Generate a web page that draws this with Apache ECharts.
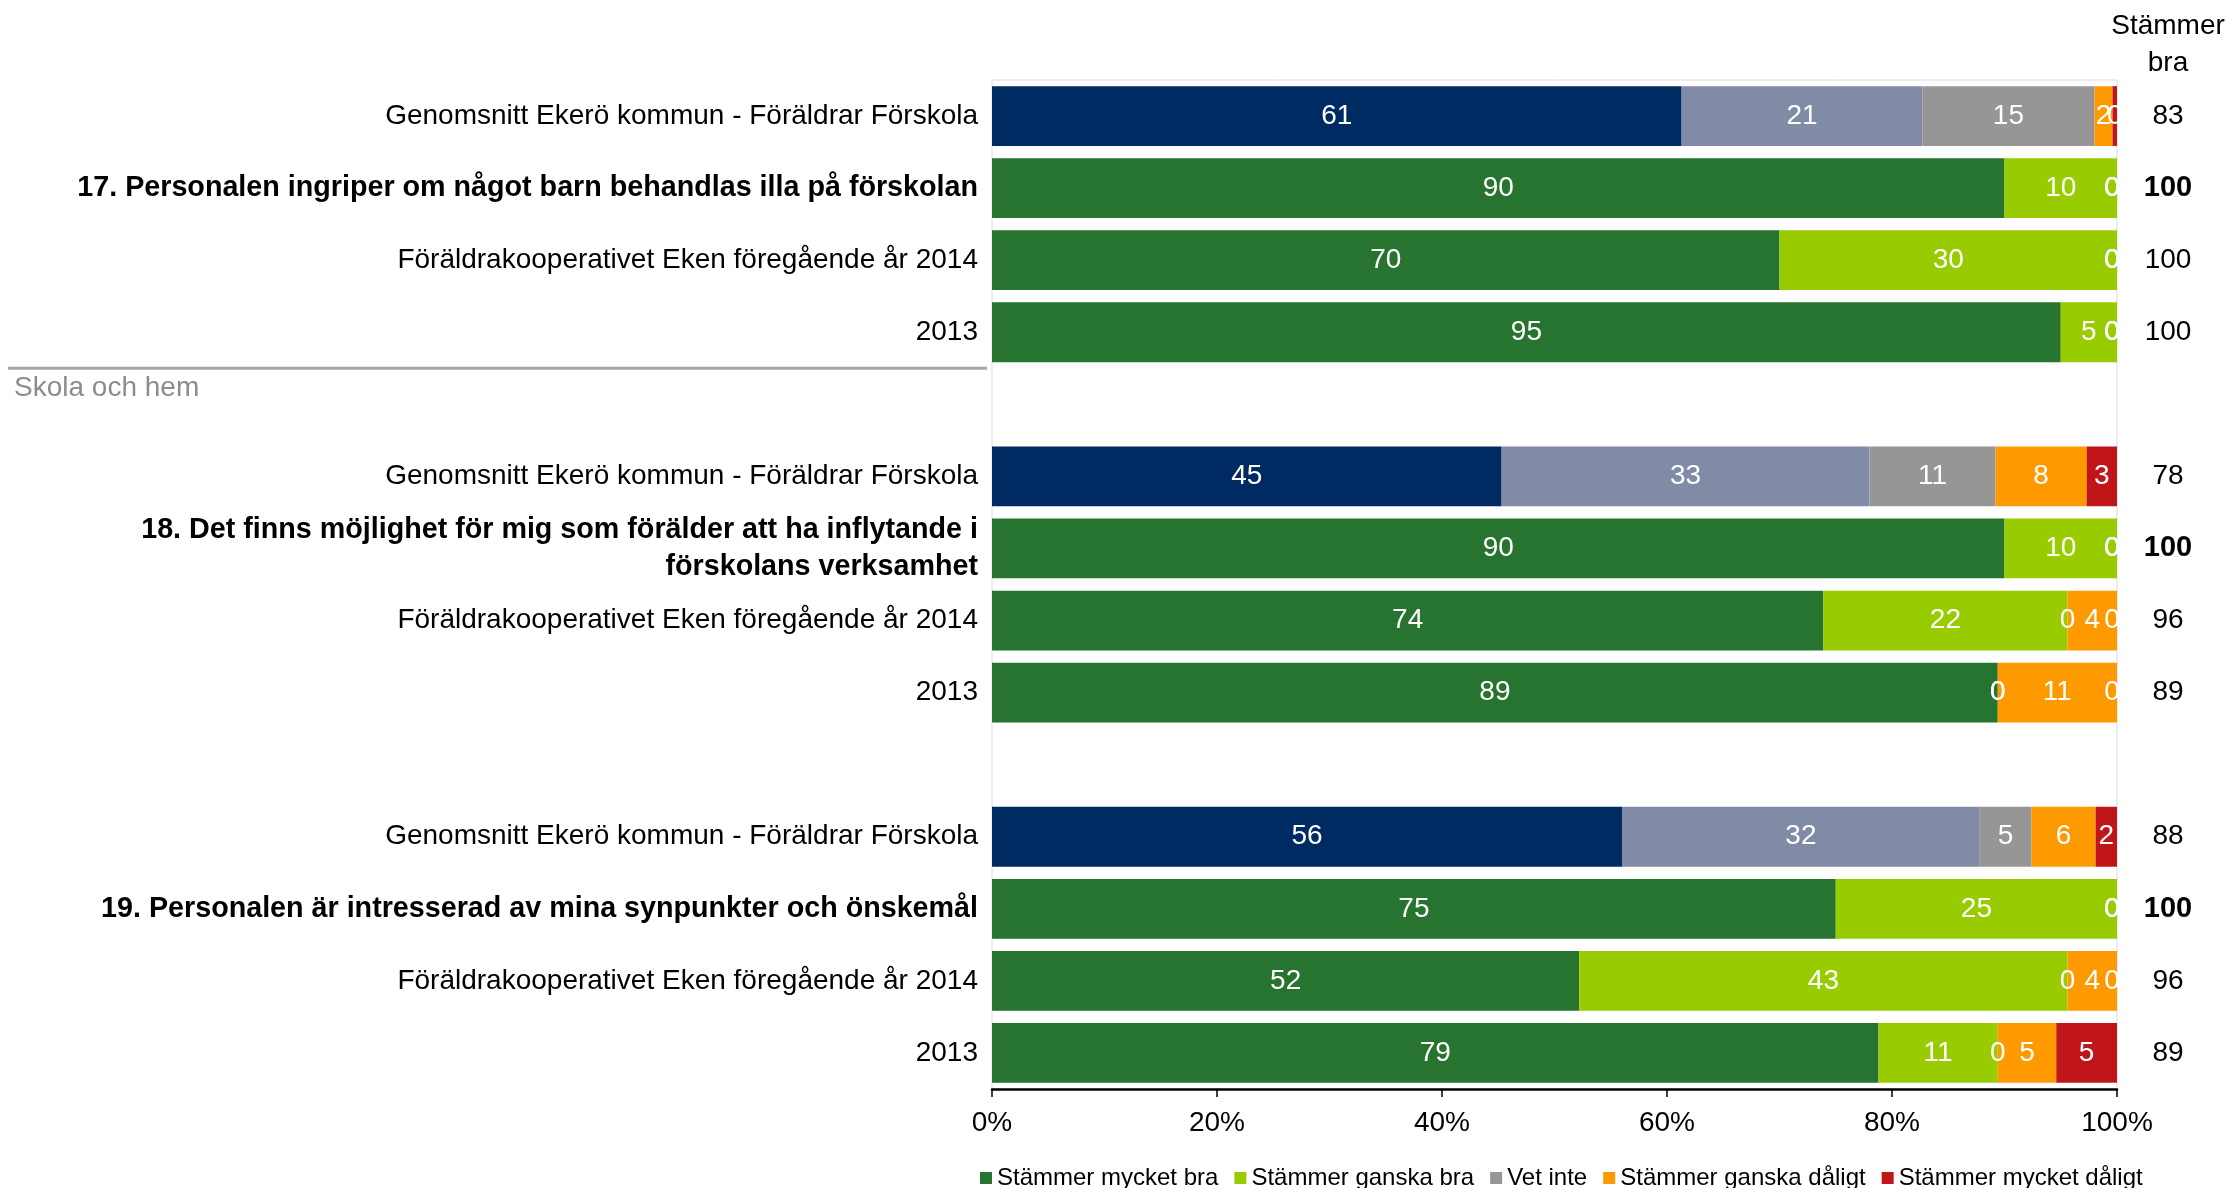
<!DOCTYPE html>
<html><head><meta charset="utf-8">
<script src="https://cdn.jsdelivr.net/npm/echarts@6/dist/echarts.min.js"></script>
<style>html,body{margin:0;padding:0;background:#fff}#c{width:2226px;height:1188px}</style>
</head><body><div id="c"></div>
<script>
// ---- data ----
const categories = [
  'Genomsnitt Ekerö kommun - Föräldrar Förskola',
  '17. Personalen ingriper om något barn behandlas illa på förskolan',
  'Föräldrakooperativet Eken föregående år 2014',
  '2013',
  '',
  'Genomsnitt Ekerö kommun - Föräldrar Förskola',
  '18. Det finns möjlighet för mig som förälder att ha inflytande i\nförskolans verksamhet',
  'Föräldrakooperativet Eken föregående år 2014',
  '2013',
  '',
  'Genomsnitt Ekerö kommun - Föräldrar Förskola',
  '19. Personalen är intresserad av mina synpunkter och önskemål',
  'Föräldrakooperativet Eken föregående år 2014',
  '2013'
];
const seriesNames = ['Stämmer mycket bra', 'Stämmer ganska bra', 'Vet inte', 'Stämmer ganska dåligt', 'Stämmer mycket dåligt'];
const mycketBra    = [61.3, 90, 70, 95, null, 45.3, 90, 73.9, 89.4, null, 56.0, 75, 52.2, 78.8];
const ganskaBra    = [21.4, 10, 30, 5, null, 32.7, 10, 21.7, 0, null, 31.8, 25, 43.4, 10.6];
const vetInte      = [15.3, 0, 0, 0, null, 11.2, 0, 0, 0, null, 4.6, 0, 0, 0];
const ganskaDaligt = [1.6, 0, 0, 0, null, 8.1, 0, 4.4, 10.6, null, 5.7, 0, 4.4, 5.2];
const mycketDaligt = [0.4, 0, 0, 0, null, 2.7, 0, 0, 0, null, 1.9, 0, 0, 5.4];
const stammerBra   = ['83', '100', '100', '100', '', '78', '100', '96', '89', '', '88', '100', '96', '89'];
const sectionLabel = 'Skola och hem';
const columnHeader = 'Stämmer\nbra';
const xMin = 0, xMax = 100, xInterval = 20;

// ---- styling ----
const FONT = "'Liberation Sans', Arial, sans-serif";
const baseColors = ['#277330', '#99CC00', '#969696', '#FF9900', '#C0161A'];
const avgColors  = ['#002B62', '#828BA6', '#969696', '#FF9900', '#C0161A'];
const seriesValues = [mycketBra, ganskaBra, vetInte, ganskaDaligt, mycketDaligt];
const isAvg = n => n.indexOf('Genomsnitt') === 0;
const isQuestion = n => /^\d+\./.test(n);

const series = seriesValues.map((vals, s) => ({
  name: seriesNames[s],
  type: 'bar',
  stack: 'total',
  barCategoryGap: '17%',
  itemStyle: { color: baseColors[s] },
  label: {
    show: true, position: 'inside', color: '#fff', fontSize: 28, fontFamily: FONT,
    formatter: p => (typeof p.value === 'number') ? String(Math.round(p.value)) : ''
  },
  emphasis: { disabled: true },
  data: vals.map((v, i) => {
    if (v == null) return '-';
    const item = { value: v };
    if (isAvg(categories[i])) item.itemStyle = { color: avgColors[s] };
    let before = 0;
    for (let k = 0; k < s; k++) before += seriesValues[k][i] || 0;
    if (v === 0 && before >= 99.5) item.label = { offset: [-5, 0] };
    return item;
  })
}));

const chart = echarts.init(document.getElementById('c'));
chart.setOption({
  animation: false,
  textStyle: { fontFamily: FONT },
  grid: { left: 992, right: 109, top: 80, bottom: 99, show: true, borderColor: '#D9D9E3', borderWidth: 1, containLabel: false, outerBoundsMode: 'none' },
  legend: {
    data: seriesNames, left: 975, top: 1161, icon: 'rect', itemWidth: 12, itemHeight: 12, itemGap: 16,
    textStyle: { fontSize: 24, color: '#000', fontFamily: FONT }, selectedMode: false
  },
  xAxis: {
    type: 'value', min: xMin, max: xMax, interval: xInterval,
    axisLine: { show: true, lineStyle: { color: '#000', width: 2.5 } },
    axisTick: { show: true, length: 8, lineStyle: { color: '#000', width: 1.5 } },
    axisLabel: { formatter: '{value}%', fontSize: 28, color: '#000', margin: 20, fontFamily: FONT },
    splitLine: { show: false }
  },
  yAxis: [
    {
      type: 'category', inverse: true, data: categories,
      axisLine: { show: false }, axisTick: { show: false },
      axisLabel: {
        interval: 0, margin: 14, fontSize: 28, color: '#000', fontFamily: FONT, lineHeight: 37,
        formatter: (v, i) => {
          const n = categories[i];
          if (isQuestion(n)) return n.split('\n').map(t => '{b|' + t + '}').join('\n');
          return n;
        },
        rich: { b: { fontWeight: 'bold', fontSize: 28.7, lineHeight: 37, color: '#000', fontFamily: FONT } }
      }
    },
    {
      type: 'category', inverse: true, position: 'right', data: categories,
      axisLine: { show: false }, axisTick: { show: false },
      axisLabel: {
        interval: 0, margin: 51, align: 'center', fontSize: 28, color: '#000', fontFamily: FONT,
        formatter: (v, i) => isQuestion(categories[i]) ? '{b|' + stammerBra[i] + '}' : stammerBra[i],
        rich: { b: { fontWeight: 'bold', fontSize: 29, color: '#000', fontFamily: FONT } }
      }
    }
  ],
  series: series
});

// decorations placed via the axis scale
const y3 = chart.convertToPixel({ yAxisIndex: 0 }, 3);
const y4 = chart.convertToPixel({ yAxisIndex: 0 }, 4);
const boundary = (y3 + y4) / 2;
const xRight = chart.convertToPixel({ xAxisIndex: 0 }, xMax);
chart.setOption({
  graphic: [
    { type: 'line', shape: { x1: 8, y1: boundary, x2: 987, y2: boundary }, style: { stroke: '#A6A6A6', lineWidth: 3 }, silent: true },
    { type: 'text', x: 14, y: y4 - 16, style: { text: sectionLabel, fill: '#8C8C8C', fontSize: 28, fontFamily: FONT, verticalAlign: 'middle', textVerticalAlign: 'middle' }, silent: true },
    { type: 'text', x: xRight + 51, y: 8, style: { text: columnHeader, fill: '#000', fontSize: 28, lineHeight: 37, fontFamily: FONT, align: 'center', textAlign: 'center', verticalAlign: 'top' }, silent: true }
  ]
});
</script>
</body></html>
